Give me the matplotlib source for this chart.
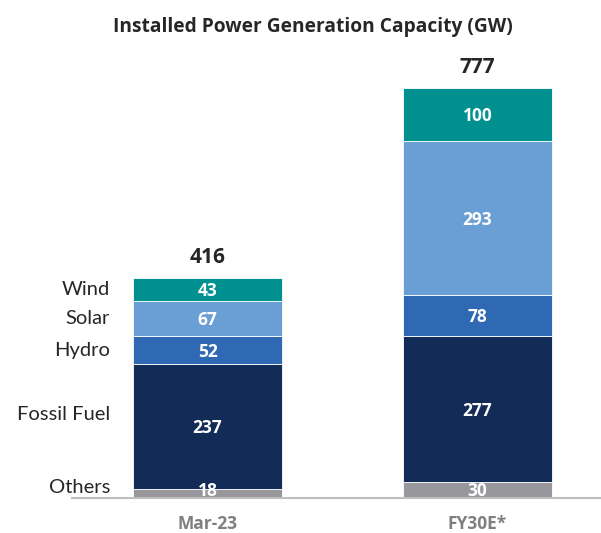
import matplotlib.pyplot as plt
import numpy as np

plt.rcParams['font.family'] = ['Open Sans', 'DejaVu Sans']

periods = ['Mar-23', 'FY30E*']
sources = ['Others', 'Fossil Fuel', 'Hydro', 'Solar', 'Wind']
others = [18, 30]
fossil = [237, 277]
hydro = [52, 78]
solar = [67, 293]
wind = [43, 100]
totals = [416, 777]

colors = ['#98989c', '#132b57', '#2f69b3', '#6a9fd6', '#00908f']

fig = plt.figure(figsize=(6.01, 5.33), dpi=100)
ax = fig.add_axes([72 / 601, 35 / 533, 528 / 601, 458 / 533])

x = np.arange(len(periods))
width = 0.552
bottom = np.zeros(len(periods))
series = [others, fossil, hydro, solar, wind]
for vals, col in zip(series, colors):
    vals = np.array(vals)
    ax.bar(x, vals, width, bottom=bottom, color=col, edgecolor='white', linewidth=0.6)
    for xi, b, v in zip(x, bottom, vals):
        ax.text(xi, b + max(v / 2, 16) - 3, str(v), ha='center', va='center', color='white',
                fontsize=12.5, fontweight='bold')
    bottom += vals

# totals above bars
for xi, t in zip(x, totals):
    ax.text(xi, t + 20, str(t), ha='center', va='bottom', fontsize=15,
            fontweight='bold', color='#262626')

# category labels left of first bar
b = 0
offsets = [10, 22, 0, 0, 0]
for name, vals, off in zip(sources, series, offsets):
    ax.text(-0.361, b + vals[0] / 2 + off, name, ha='right', va='center',
            fontsize=14.5, color='#262626', family=['Lato', 'DejaVu Sans'])
    b += vals[0]

ax.set_xlim(-0.502, 1.454)
ax.set_ylim(0, 870)
ax.set_xticks(x)
ax.set_xticklabels(periods, fontsize=12.5, fontweight='bold', color='#7f7f7f')
ax.tick_params(axis='x', length=0, pad=12)
ax.set_yticks([])
for s in ['top', 'right', 'left']:
    ax.spines[s].set_visible(False)
ax.spines['bottom'].set_color('#bfbfbf')
ax.spines['bottom'].set_linewidth(1.5)

fig.text(0.52, 1 - 27 / 533, 'Installed Power Generation Capacity (GW)', ha='center',
         va='center', fontsize=13.8, fontweight='bold', color='#262626')

fig.savefig('out.png', dpi=100)
